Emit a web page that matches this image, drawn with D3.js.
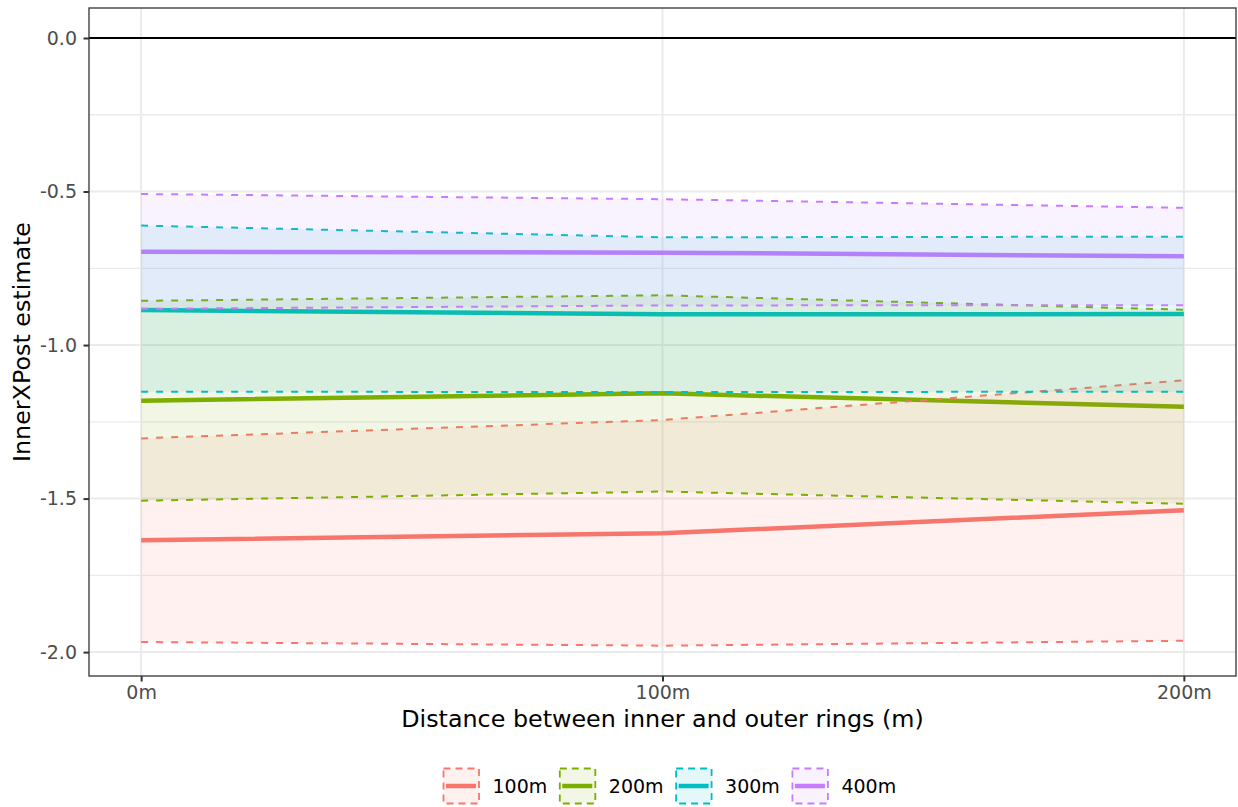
<!DOCTYPE html>
<html>
<head>
<meta charset="utf-8">
<script src="https://cdn.jsdelivr.net/npm/d3@7"></script>
<style>
  body { margin: 0; background: #fff; }
  svg { font-family: "DejaVu Sans", sans-serif; }
</style>
</head>
<body>
<svg id="chart" width="1238" height="807"></svg>
<script>
// Data
const distances = [0, 100, 200];
const distanceLabels = ["0m", "100m", "200m"];
const groups = ["100m", "200m", "300m", "400m"];
const groupColors = ["#F8766D", "#7CAE00", "#00BFC4", "#C77CFF"];

const est100 = [-1.636, -1.613, -1.538];
const lo100 = [-1.967, -1.979, -1.963];
const hi100 = [-1.304, -1.244, -1.115];

const est200 = [-1.181, -1.157, -1.201];
const lo200 = [-1.507, -1.477, -1.517];
const hi200 = [-0.856, -0.838, -0.885];

const est300 = [-0.886, -0.900, -0.899];
const lo300 = [-1.152, -1.153, -1.152];
const hi300 = [-0.611, -0.649, -0.647];

const est400 = [-0.696, -0.699, -0.711];
const lo400 = [-0.882, -0.871, -0.870];
const hi400 = [-0.508, -0.525, -0.553];

const yTicks = [0, -0.5, -1, -1.5, -2];
const yMinor = [-0.25, -0.75, -1.25, -1.75];

// Build series from arrays
const estimates = [est100, est200, est300, est400];
const lows = [lo100, lo200, lo300, lo400];
const highs = [hi100, hi200, hi300, hi400];
const series = groups.map((g, i) => ({
    name: g,
    color: groupColors[i],
    values: distances.map((d, j) => ({ x: d, est: estimates[i][j], lo: lows[i][j], hi: highs[i][j] }))
}));

// Layout
const panel = { left: 89, top: 8, right: 1236, bottom: 676 };

const svg = d3.select("#chart");

const xScale = d3.scaleLinear().domain([-10, 210]).range([panel.left, panel.right]);
const yScale = d3.scaleLinear().domain([-2.0778, 0.0977]).range([panel.bottom, panel.top]);

// Grid
const grid = svg.append("g");
grid.selectAll(".minor")
    .data(yMinor)
    .enter().append("line")
    .attr("x1", panel.left).attr("x2", panel.right)
    .attr("y1", d => yScale(d)).attr("y2", d => yScale(d))
    .attr("stroke", "#EBEBEB").attr("stroke-width", 1.3);
grid.selectAll(".majorY")
    .data(yTicks)
    .enter().append("line")
    .attr("x1", panel.left).attr("x2", panel.right)
    .attr("y1", d => yScale(d)).attr("y2", d => yScale(d))
    .attr("stroke", "#EBEBEB").attr("stroke-width", 2);
grid.selectAll(".majorX")
    .data(distances)
    .enter().append("line")
    .attr("y1", panel.top).attr("y2", panel.bottom)
    .attr("x1", d => xScale(d)).attr("x2", d => xScale(d))
    .attr("stroke", "#EBEBEB").attr("stroke-width", 2);

// Zero reference line
svg.append("line")
    .attr("x1", panel.left).attr("x2", panel.right)
    .attr("y1", yScale(0)).attr("y2", yScale(0))
    .attr("stroke", "#000").attr("stroke-width", 2);

// Estimate lines (drawn under the ribbons, as in the original)
const line = d3.line().x(d => xScale(d.x)).y(d => yScale(d.est));
series.forEach(s => {
    svg.append("path")
        .attr("d", line(s.values))
        .attr("fill", "none")
        .attr("stroke", s.color)
        .attr("stroke-width", 4.5);
});

// Ribbons with dashed outlines
const area = d3.area().x(d => xScale(d.x)).y0(d => yScale(d.lo)).y1(d => yScale(d.hi));
const hiLine = d3.line().x(d => xScale(d.x)).y(d => yScale(d.hi));
const loLine = d3.line().x(d => xScale(d.x)).y(d => yScale(d.lo));
series.forEach(s => {
    const g = svg.append("g");
    g.append("path")
        .attr("d", area(s.values))
        .attr("fill", s.color)
        .attr("fill-opacity", 0.1);
    [hiLine, loLine].forEach(fn => {
        g.append("path")
            .attr("d", fn(s.values))
            .attr("fill", "none")
            .attr("stroke", s.color)
            .attr("stroke-width", 2)
            .attr("stroke-dasharray", "7,8");
    });
});

// Panel border
svg.append("rect")
    .attr("x", panel.left).attr("y", panel.top)
    .attr("width", panel.right - panel.left).attr("height", panel.bottom - panel.top)
    .attr("fill", "none").attr("stroke", "#333333").attr("stroke-width", 1.3);

// Axes
const xAxis = svg.append("g")
    .attr("transform", `translate(0,${panel.bottom})`)
    .call(d3.axisBottom(xScale).tickValues(distances)
        .tickFormat((d, i) => distanceLabels[i]).tickSizeOuter(0).tickSize(5.5).tickPadding(4.5));
const yAxis = svg.append("g")
    .attr("transform", `translate(${panel.left},0)`)
    .call(d3.axisLeft(yScale).tickValues(yTicks)
        .tickFormat(d3.format(".1f")).tickSizeOuter(0).tickSize(5.5).tickPadding(6.5));

[xAxis, yAxis].forEach(ax => {
    ax.select(".domain").remove();
    ax.selectAll(".tick line").attr("stroke", "#333333").attr("stroke-width", 2);
    ax.selectAll(".tick text")
        .attr("fill", "#4D4D4D")
        .style("font-size", "19px")
        .style("font-family", "DejaVu Sans");
});
yAxis.selectAll(".tick text").text(d => d3.format(".1f")(d).replace("−", "-"));

// Axis titles
svg.append("text")
    .attr("x", (panel.left + panel.right) / 2)
    .attr("y", 727)
    .attr("text-anchor", "middle")
    .style("font-size", "23.8px")
    .text("Distance between inner and outer rings (m)");

svg.append("text")
    .attr("transform", `translate(30,${(panel.top + panel.bottom) / 2}) rotate(-90)`)
    .attr("text-anchor", "middle")
    .style("font-size", "23.8px")
    .text("InnerXPost estimate");

// Legend
const legend = svg.append("g").attr("transform", "translate(443,768)");
series.forEach((s, i) => {
    const item = legend.append("g").attr("transform", `translate(${i * 116.3},0)`);
    item.append("rect")
        .attr("x", 0.5).attr("y", 0.5)
        .attr("width", 35.5).attr("height", 35)
        .attr("fill", s.color).attr("fill-opacity", 0.1)
        .attr("stroke", s.color).attr("stroke-width", 1.8)
        .attr("stroke-dasharray", "7,5");
    item.append("line")
        .attr("x1", 3).attr("x2", 33)
        .attr("y1", 18).attr("y2", 18)
        .attr("stroke", s.color).attr("stroke-width", 4.5);
    item.append("text")
        .attr("x", 49.5).attr("y", 25)
        .style("font-size", "19px")
        .text(s.name);
});
</script>
</body>
</html>
